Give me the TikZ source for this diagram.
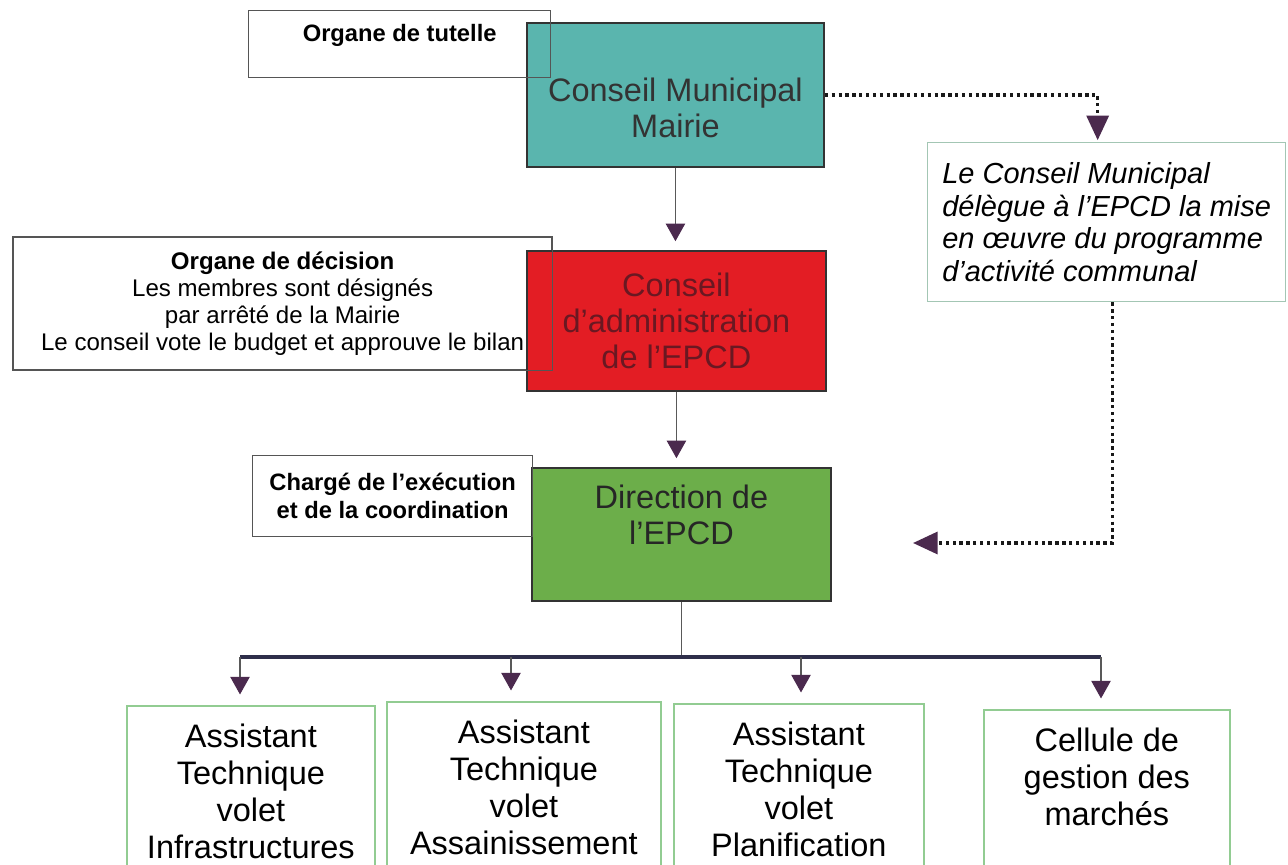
\documentclass[tikz,border=0pt]{standalone}
\usepackage{fontspec}
\setmainfont{Liberation Sans}
\usetikzlibrary{arrows.meta,positioning}
\definecolor{tealbox}{HTML}{5AB5AE}
\definecolor{redbox}{HTML}{E31D24}
\definecolor{redtext}{HTML}{6A1822}
\definecolor{greenbox}{HTML}{6CAE4A}
\definecolor{boxline}{HTML}{333333}
\definecolor{notegray}{HTML}{555555}
\definecolor{subgreen}{HTML}{92CC92}
\definecolor{delegline}{HTML}{A3C6B4}
\definecolor{tipcolor}{HTML}{4B2A4E}
\definecolor{busline}{HTML}{2E2E4A}

\begin{document}
\begin{tikzpicture}[x=0.02cm,y=-0.02cm,
  mainbox/.style={anchor=north west,draw=boxline,line width=1.1pt,inner sep=0pt},
  notebox/.style={anchor=north west,draw=notegray,line width=0.8pt,
    font=\fontsize{13.5}{16}\selectfont\bfseries,align=center},
  subbox/.style={anchor=north west,draw=subgreen,line width=1pt,minimum height=4cm},
  bigtext/.style={font=\fontsize{18.5}{20.5}\selectfont,align=center,inner sep=0pt},
  subtext/.style={font=\fontsize{18.5}{21}\selectfont,align=center,inner sep=0pt},
  link/.style={draw=black!65,line width=0.7pt,
    -{Triangle[width=11pt,length=10pt,color=tipcolor]}},
  dotlink/.style={draw=black!90,line width=1.9pt,dash pattern=on 1.9pt off 2pt,
    -{Triangle[width=12.5pt,length=14pt,color=tipcolor]}},
  bus/.style={draw=busline,line width=1.8pt},
]
  \useasboundingbox (0,0) rectangle (1288,865);
  \clip (0,0) rectangle (1288,865);
  \fill[white] (0,0) rectangle (1288,865);

  % conseil municipal and its note
  \node[mainbox,fill=tealbox,minimum width=5.94cm,minimum height=2.88cm] (municipal) at (526,22) {};
  \node[bigtext,text=black!80,below=1.12cm of municipal.north] (municipaltext) {Conseil Municipal\\Mairie};
  \node[notebox,inner ysep=0pt,minimum width=6.04cm,text height=0.62cm,text depth=0.72cm] (tutelle) at (248,10) {Organe de tutelle};

  \node[anchor=north west,draw=delegline,line width=0.8pt,minimum width=7.16cm,minimum height=3.18cm,
    align=left,font=\fontsize{16.5}{18.7}\selectfont\itshape] (delegue) at (927,142)
    {Le Conseil Municipal\\délègue à l'EPCD la mise\\en œuvre du programme\\d'activité communal};

  % conseil d'administration
  \node[notebox,font=\fontsize{13.7}{15.5}\selectfont,minimum width=10.76cm,minimum height=2.64cm] (decision) at (13,237)
    {\textbf{Organe de décision}\\Les membres sont désignés\\par arrêté de la Mairie\\Le conseil vote le budget et approuve le bilan};
  \node[mainbox,fill=redbox,minimum width=5.98cm,minimum height=2.8cm,
    font=\fontsize{18.5}{20.5}\selectfont,align=center,text=redtext] (admin) at (526,250)
    {Conseil\\d'administration\\de l'EPCD};
  \draw[notegray,line width=0.8pt] (decision.south west) rectangle (decision.north east);

  % direction
  \node[mainbox,fill=greenbox,minimum width=5.98cm,minimum height=2.66cm] (direction) at (531,467) {};
  \node[bigtext,text=black!85,below=0.36cm of direction.north] (directiontext) {Direction de\\l'EPCD};
  \node[notebox,minimum width=5.6cm,minimum height=1.62cm] (charge) at (252,455)
    {Chargé de l'exécution\\et de la coordination};

  % services
  \node[subbox,minimum width=4.96cm] (infra) at (126,705) {};
  \node[subbox,minimum width=5.48cm] (assain) at (386,701) {};
  \node[subbox,minimum width=5.0cm] (planif) at (673,703) {};
  \node[subbox,minimum width=4.92cm] (marches) at (983,709) {};
  \node[subtext,below=0.38cm of infra.north] (infratext) {Assistant\\Technique\\volet\\Infrastructures};
  \node[subtext,below=0.38cm of assain.north] (assaintext) {Assistant\\Technique\\volet\\Assainissement};
  \node[subtext,below=0.38cm of planif.north] (planiftext) {Assistant\\Technique\\volet\\Planification};
  \node[subtext,below=0.38cm of marches.north] (marchestext) {Cellule de\\gestion des\\marchés};

  % links
  \draw[link,shorten >=5pt] (municipal.south) -- (municipal.south |- admin.north);
  \draw[link,shorten >=5pt] (admin.south) -- (admin.south |- direction.north);

  \draw[dotlink,shorten >=1pt] (municipal.east) -| ([xshift=-0.18cm]delegue.north);
  \coordinate (directionin) at (913,543);
  \draw[dotlink] ([xshift=0.12cm]delegue.south) |- (directionin);

  \coordinate (busy) at (0,657);
  \coordinate (drop1) at (240,657);
  \coordinate (drop2) at (511,657);
  \coordinate (drop3) at (801,657);
  \coordinate (drop4) at (1101,657);
  \draw[draw=black!65,line width=0.7pt] (direction.south) -- (direction.south |- busy);
  \draw[bus] (drop1) -- (drop4);
  \foreach \i/\target in {1/infra,2/assain,3/planif,4/marches}
    \draw[link,shorten >=6pt] (drop\i) -- (drop\i |- \target.north);
\end{tikzpicture}
\end{document}
